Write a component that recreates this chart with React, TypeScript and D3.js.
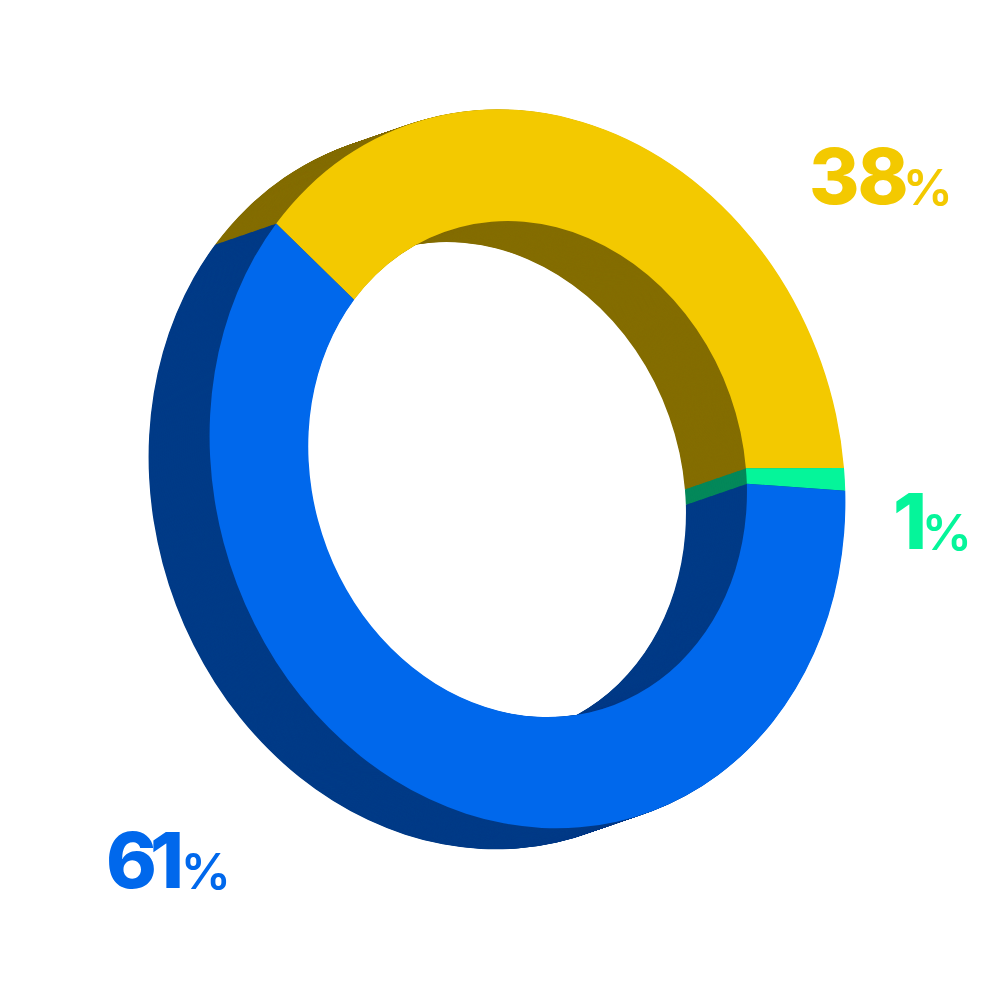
import React from "react";
import * as d3 from "d3";

const categories = ["Yellow", "Green", "Blue"];
const values = [38, 1, 61];
const faceColors = ["#F3C900", "#05F59A", "#0068EC"];
const wallColors = ["#846D00", "#04885A", "#003B87"];
const labelTexts = ["38", "1", "61"];

const SIZE = 1000;
const CENTER = [527.5, 469];
const AXIS_X = [316.5, -1];
const AXIS_Y = [30, 359.5];
const INNER_RATIO = 0.69;
const DEPTH = [-61, 21];
const DEPTH_STEPS = 90;
const labelAnchors = [
  { x: 809, y: 204, end: 953, spacing: -2 },
  { x: 893, y: 549, end: 972, spacing: 0 },
  { x: 106, y: 888, end: 231, spacing: -7 },
];

const yellowEnd = Math.PI / 2;
const sweep = (values[0] / d3.sum(values)) * 2 * Math.PI;
const pie = d3
  .pie<number>()
  .sort(null)
  .startAngle(yellowEnd - sweep)
  .endAngle(yellowEnd - sweep + 2 * Math.PI);
const arc = d3.arc<d3.PieArcDatum<number>>().innerRadius(INNER_RATIO).outerRadius(1);
const slices = pie(values);

const offsets = d3.range(DEPTH_STEPS, 0, -1).map((i) => i / DEPTH_STEPS);

const matrix = (k: number) =>
  `matrix(${AXIS_X[0]},${AXIS_X[1]},${AXIS_Y[0]},${AXIS_Y[1]},${CENTER[0] + DEPTH[0] * k},${CENTER[1] + DEPTH[1] * k})`;

const FONT = "Inter, 'Open Sans', sans-serif";

export default function App() {
  return (
    <svg
      width={SIZE}
      height={SIZE}
      viewBox={`0 0 ${SIZE} ${SIZE}`}
      style={{ position: "absolute", left: 0, top: 0, display: "block", background: "#fff" }}
    >
      {offsets.map((k) => (
        <g key={k} transform={matrix(k)}>
          {slices.map((s, i) => (
            <path key={categories[i]} d={arc(s) ?? ""} fill={wallColors[i]} />
          ))}
        </g>
      ))}
      <g transform={matrix(0)}>
        {slices.map((s, i) => (
          <path key={categories[i]} d={arc(s) ?? ""} fill={faceColors[i]} />
        ))}
      </g>
      {labelTexts.map((t, i) => (
        <g key={t} fill={faceColors[i]} fontFamily={FONT}>
          <text
            x={labelAnchors[i].x}
            y={labelAnchors[i].y}
            fontSize={77}
            fontWeight={800}
            letterSpacing={labelAnchors[i].spacing}
          >
            {t}
          </text>
          <text x={labelAnchors[i].end} y={labelAnchors[i].y + 1} fontSize={50} fontWeight={600} textAnchor="end">
            %
          </text>
        </g>
      ))}
    </svg>
  );
}
